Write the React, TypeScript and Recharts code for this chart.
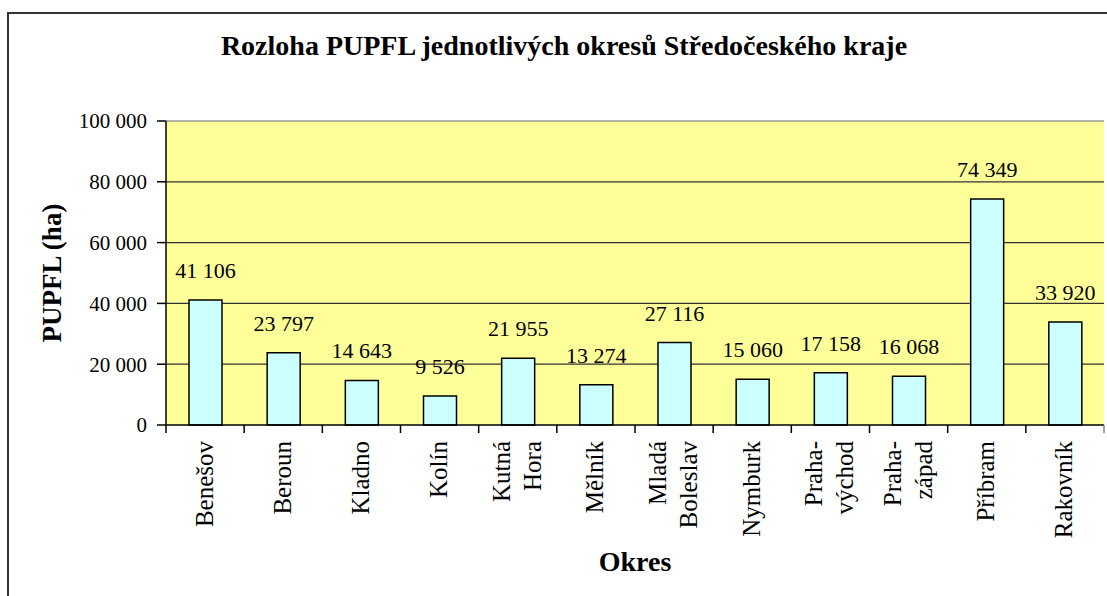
import React from "react";
import {
  BarChart, Bar, XAxis, YAxis, CartesianGrid, LabelList, Label, ReferenceLine,
} from "recharts";

const okresy = [
  "Benešov", "Beroun", "Kladno", "Kolín", "Kutná\nHora", "Mělník",
  "Mladá\nBoleslav", "Nymburk", "Praha-\nvýchod", "Praha-\nzápad", "Příbram", "Rakovník",
];
const rozloha = [41106, 23797, 14643, 9526, 21955, 13274, 27116, 15060, 17158, 16068, 74349, 33920];
const yTicks = [0, 20000, 40000, 60000, 80000, 100000];

const data = okresy.map((name, i) => ({ name, value: rozloha[i] }));

const serif = '"Liberation Serif", "Times New Roman", serif';
const W = 1107;
const H = 596;

const fmt = (v: number) => String(v).replace(/\B(?=(\d{3})+(?!\d))/g, " ");

const CategoryTick: React.FC<any> = ({ x, y, payload, index }) => {
  const lines = String(payload.value).split("\n");
  const half = payload.offset ?? 39;
  const gap = 31;
  return (
    <g>
      <line x1={x - half} y1={y - 8} x2={x - half} y2={y} stroke="#000" strokeWidth={1.5} />
      {index === okresy.length - 1 && (
        <line x1={x + half} y1={y - 8} x2={x + half} y2={y} stroke="#808080" strokeWidth={1.5} />
      )}
      <g transform={`translate(${x - 1},${y + 8})`}>
        <text transform="rotate(-90)" textAnchor="end" style={{ fontFamily: serif, fontSize: 25 }} fill="#000">
          {lines.map((l, i) => (
            <tspan key={i} x={0} y={(i - (lines.length - 1) / 2) * gap} dominantBaseline="central">
              {l}
            </tspan>
          ))}
        </text>
      </g>
    </g>
  );
};

// labels sit a fixed distance above each bar
const ValueLabel: React.FC<any> = ({ x, y, width, value }) => (
  <text x={x + width / 2} y={y - 22} textAnchor="middle" style={{ fontFamily: serif, fontSize: 22 }} fill="#000">
    {fmt(value)}
  </text>
);

export default function App() {
  return (
    <div style={{ position: "absolute", left: 0, top: 0, width: W, height: H, background: "#fff", overflow: "hidden", fontFamily: serif }}>
      <style>{`svg text, svg tspan { font-family: "Liberation Serif", "Times New Roman", serif !important; }`}</style>
      <div
        style={{
          position: "absolute", left: 7, top: 12, width: W, height: H,
          borderLeft: "2px solid #333", borderTop: "2px solid #333",
        }}
      />
      <div
        style={{
          position: "absolute", left: 0, top: 30, width: 1128, textAlign: "center",
          fontFamily: serif, fontWeight: "bold", fontSize: 28, color: "#000",
        }}
      >
        Rozloha PUPFL jednotlivých okresů Středočeského kraje
      </div>
      <div style={{ position: "absolute", left: 0, top: 0 }}>
        <BarChart width={W} height={H} data={data} margin={{ top: 121, right: 3, bottom: 0, left: 0 }} barSize={33}>
          <CartesianGrid
            vertical={false}
            horizontalValues={[20000, 40000, 60000, 80000]}
            stroke="#333"
            strokeWidth={1.3}
            fill="#FFFF99"
            fillOpacity={1}
          />
          <XAxis
            dataKey="name"
            interval={0}
            height={171}
            tickLine={false}
            axisLine={{ stroke: "#000", strokeWidth: 1.5 }}
            tick={<CategoryTick />}
          >
            <Label
              value="Okres"
              position="insideBottom"
              offset={25}
              fontWeight="bold"
              fontSize={28}
              fill="#000"
            />
          </XAxis>
          <YAxis
            width={166}
            domain={[0, 100000]}
            ticks={yTicks}
            tickFormatter={fmt}
            tickSize={9}
            tickMargin={10}
            tickLine={{ stroke: "#000", strokeWidth: 1.5 }}
            axisLine={{ stroke: "#000", strokeWidth: 1.5 }}
            tick={{ fontSize: 21, fill: "#000" }}
          >
            <Label
              value="PUPFL (ha)"
              angle={-90}
              position="center"
              dx={-32}
              fontWeight="bold"
              fontSize={27}
              fill="#000"
            />
          </YAxis>
          <YAxis yAxisId="r" orientation="right" width={0} tick={false} tickLine={false} domain={[0, 100000]} axisLine={{ stroke: "#999", strokeWidth: 1.5 }} />
          <ReferenceLine y={100000} stroke="#999" strokeWidth={1.5} />
          <Bar dataKey="value" fill="#CCFFFF" stroke="#000" strokeWidth={1.5} isAnimationActive={false}>
            <LabelList dataKey="value" content={<ValueLabel />} />
          </Bar>
        </BarChart>
      </div>
    </div>
  );
}
